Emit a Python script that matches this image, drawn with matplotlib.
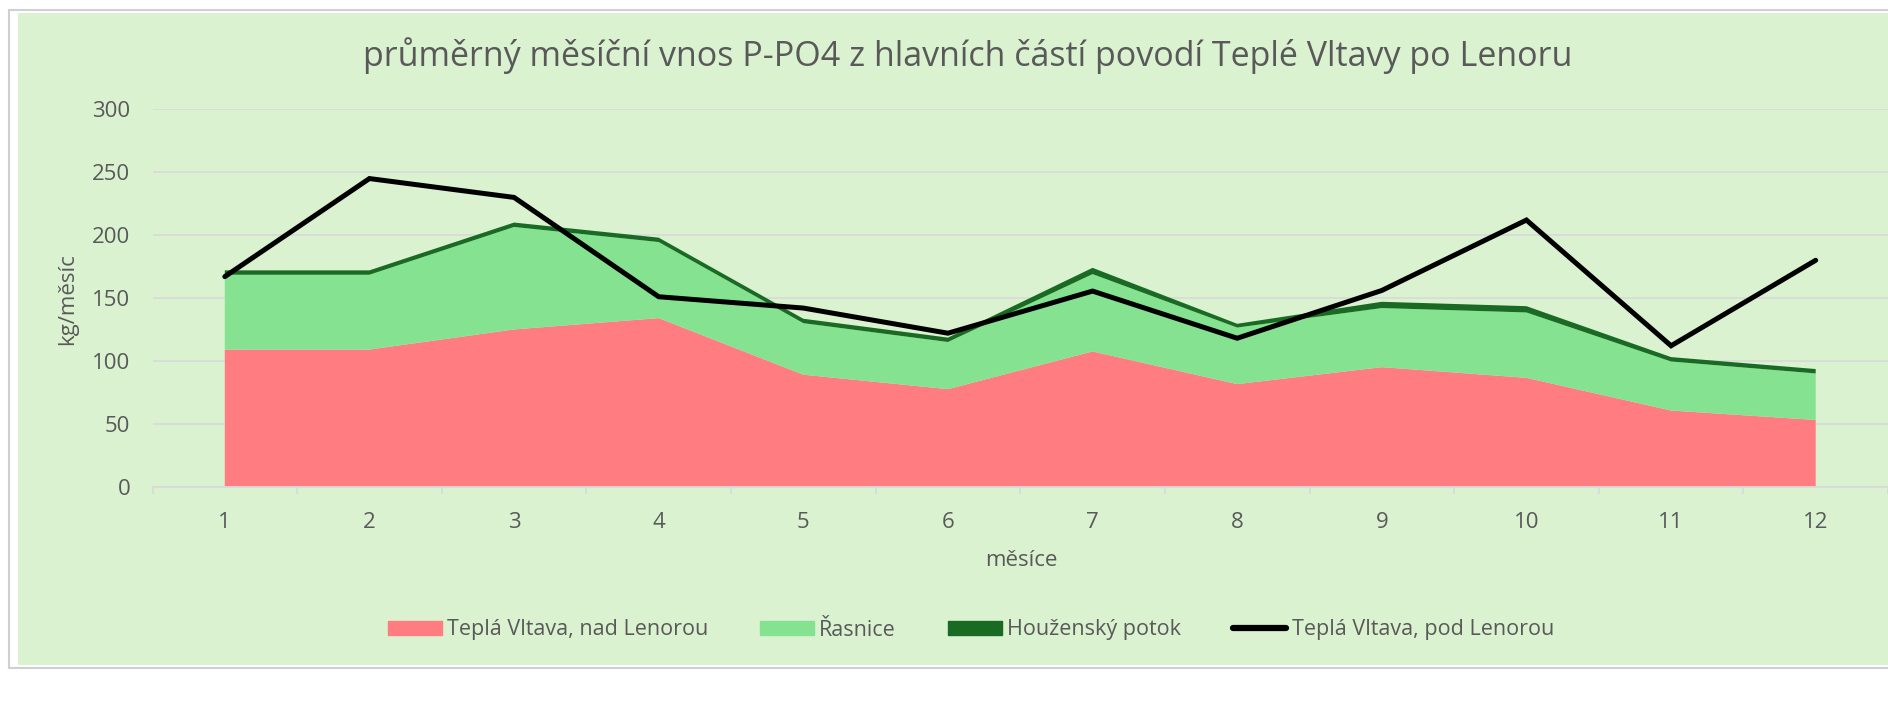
import matplotlib.pyplot as plt
from matplotlib.patches import Rectangle, Patch
from matplotlib.lines import Line2D
import numpy as np

plt.rcParams['font.family'] = ['Open Sans', 'DejaVu Sans']

# monthly P-PO4 load, kg/month
mesice = [1, 2, 3, 4, 5, 6, 7, 8, 9, 10, 11, 12]
nad_lenorou = [109, 109, 125, 134, 89, 77.5, 107.5, 81.5, 95, 86.5, 60.5, 53]
rasnice = [59.5, 59.5, 81.5, 60.5, 41, 37.5, 61.5, 45, 47, 52, 39, 37]
houzensky = [3.5, 3.5, 3.5, 3.5, 3.5, 3.5, 5, 3, 5, 5, 3.5, 3.5]
pod_lenorou = [167, 245, 230, 151, 142, 122, 155.5, 118, 156, 212, 112, 180]

c_red = '#FF7C80'
c_light = '#85E290'
c_dark = '#196B24'
c_bg = '#DAF2D0'
c_text = '#595959'
c_grid = '#D9D9D9'

W, H = 1888, 704
fig = plt.figure(figsize=(W / 100, H / 100), dpi=100)
fig.patch.set_facecolor('white')

# chart frame
fig.patches.append(Rectangle((9 / W, 1 - 668 / H), 1.0, 658 / H, transform=fig.transFigure,
                             facecolor='white', edgecolor='#D0D0D0', lw=1.5, zorder=-2))
fig.patches.append(Rectangle((18 / W, 1 - 665 / H), 1.0, 652 / H, transform=fig.transFigure,
                             facecolor=c_bg, edgecolor='none', zorder=-1))

ax = fig.add_axes([152.5 / W, 1 - 486.6 / H, (W - 152.5) / W, (486.6 - 109.4) / H])
ax.set_facecolor('none')
ax.set_zorder(2)

ax.stackplot(mesice, nad_lenorou, rasnice, houzensky,
             colors=[c_red, c_light, c_dark], linewidth=0, zorder=2)
ax.plot(mesice, pod_lenorou, color='black', lw=3.6, solid_capstyle='round',
        solid_joinstyle='miter', zorder=3)

ax.set_xlim(0.5, 12.5)
ax.set_ylim(0, 300)
ax.set_yticks(np.arange(0, 301, 50))
ax.set_xticks(mesice)
ax.set_xticks(np.arange(0.5, 12.6, 1), minor=True)
ax.grid(axis='y', color=c_grid, lw=1.2, zorder=0)
ax.set_axisbelow(True)

for s in ['top', 'right', 'left']:
    ax.spines[s].set_visible(False)
ax.spines['bottom'].set_color(c_grid)
ax.spines['bottom'].set_linewidth(1.2)

ax.tick_params(axis='y', length=0, pad=16, labelsize=16, labelcolor=c_text)
ax.tick_params(axis='x', which='major', length=0, pad=18, labelsize=16, labelcolor=c_text)
ax.tick_params(axis='x', which='minor', length=5, width=1.2, color=c_grid, direction='out')

fig.text(968 / W, 1 - 56 / H,
         'průměrný měsíční vnos P-PO4 z hlavních částí povodí Teplé Vltavy po Lenoru',
         ha='center', va='center', fontsize=24.5, color=c_text)
fig.text(1021 / W, 1 - 561 / H, 'měsíce', ha='center', va='center', fontsize=16, color=c_text)
fig.text(68 / W, 1 - 299 / H, 'kg/měsíc', ha='center', va='center', rotation=90,
         fontsize=16, color=c_text)

handles = [Patch(color=c_red), Patch(color=c_light), Patch(color=c_dark),
           Line2D([], [], color='black', lw=4.5, solid_capstyle='round')]
labels = ['Teplá Vltava, nad Lenorou', 'Řasnice', 'Houženský potok', 'Teplá Vltava, pod Lenorou']
fig.legend(handles, labels, loc='center', bbox_to_anchor=(971 / W, 1 - 630 / H), ncol=4,
           frameon=False, fontsize=15.5, labelcolor=c_text, handlelength=2.5,
           handleheight=0.65, handletextpad=0.25, columnspacing=2.4)

fig.savefig('out.png', dpi=100, facecolor='white')
